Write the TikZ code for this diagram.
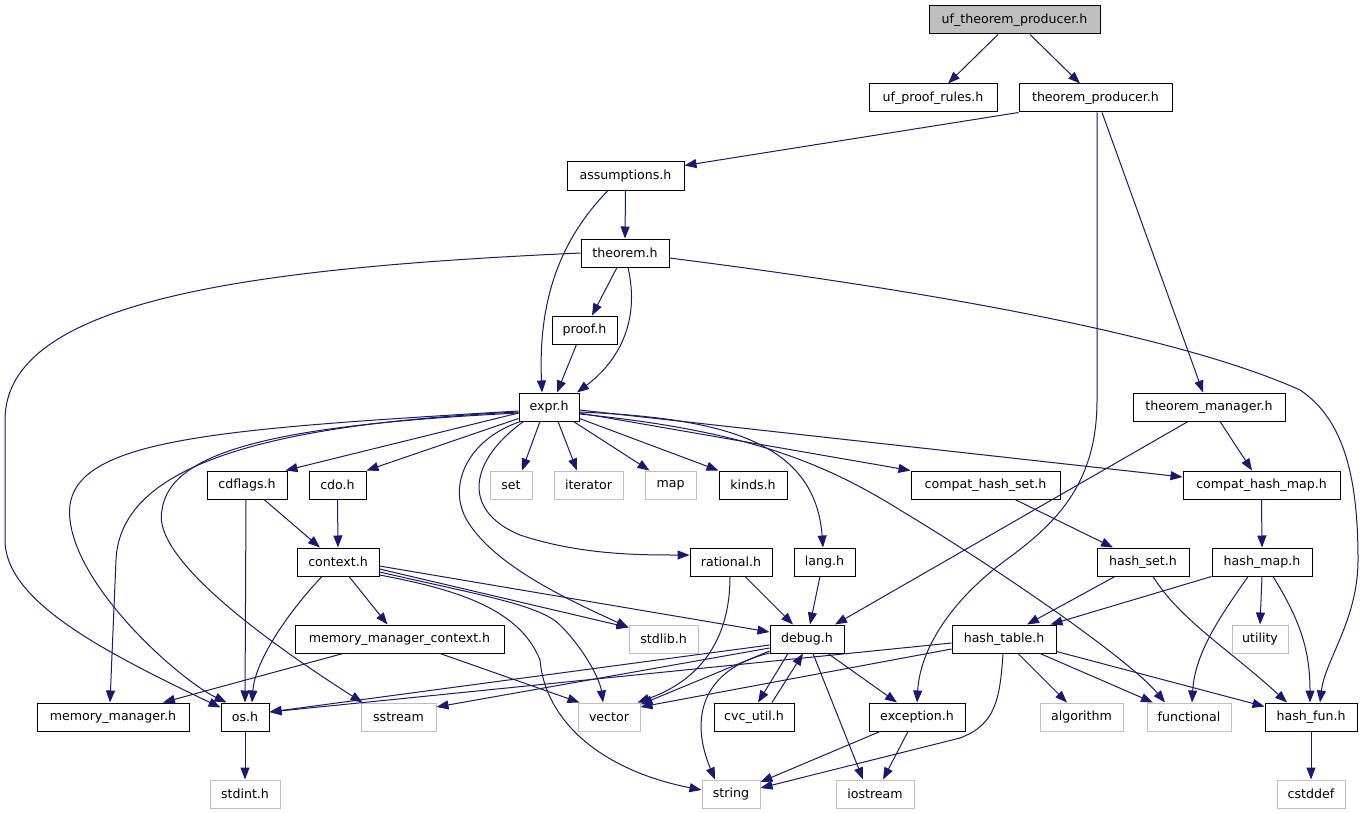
\documentclass[tikz,border=0pt]{standalone}
\usepackage{fontspec}
\setmainfont{DejaVu Sans}
\usepackage{xcolor}
\usepackage{tikz}
\usetikzlibrary{arrows.meta,positioning,calc}

\definecolor{edgeblue}{HTML}{191970}
\definecolor{sysgray}{HTML}{BFBFBF}

\begin{document}
\begin{tikzpicture}[
    x=1pt, y=-1pt,
    box/.style={rectangle, draw=black, fill=white, line width=1pt, minimum width=#1, minimum height=28pt, inner sep=1pt, font=\fontsize{12.6}{15}\selectfont},
    sysbox/.style={box=#1, draw=sysgray},
    arrow/.style={-{Triangle[length=12pt,width=9pt]}, draw=edgeblue, line width=1pt}
]
\useasboundingbox (0,0) rectangle (1364,813);
\fill[white] (0,0) rectangle (1364,813);

% Row 0 and 1
\node[box=171pt, fill=sysgray] (ufthmprod) at (1014.5,20) {uf\_theorem\_producer.h};
\node[box=128pt] (ufrules) at (933,98) {uf\_proof\_rules.h};
\node[box=153pt] (thmprod) at (1095.5,98) {theorem\_producer.h};

% Rows 2 to 5
\node[box=117pt] (assum) at (625.5,176) {assumptions.h};
\node[box=88pt] (theorem) at (625,253) {theorem.h};
\node[box=65pt] (proof) at (584.5,330) {proof.h};
\node[box=60pt] (expr) at (549,407) {expr.h};
\node[box=152pt] (thmmgr) at (1209,407) {theorem\_manager.h};

% Row 6
\node[box=80pt] (cdflags) at (247,485) {cdflags.h};
\node[box=57pt] (cdo) at (337.5,485) {cdo.h};
\node[sysbox=42pt] (set) at (511,485) {set};
\node[sysbox=69pt] (iterator) at (588.5,485) {iterator};
\node[sysbox=51pt] (map) at (670.5,485) {map};
\node[box=68pt] (kinds) at (753,485) {kinds.h};
\node[box=149pt] (chset) at (985.5,485) {compat\_hash\_set.h};
\node[box=157pt] (chmap) at (1261.5,485) {compat\_hash\_map.h};

% Row 7
\node[box=82pt] (context) at (338,562) {context.h};
\node[box=82pt] (rational) at (731,562) {rational.h};
\node[box=61pt] (lang) at (824.5,562) {lang.h};
\node[box=92pt] (hashset) at (1143,562) {hash\_set.h};
\node[box=100pt] (hashmap) at (1262,562) {hash\_map.h};

% Row 8
\node[box=209pt] (mmctx) at (399.5,639) {memory\_manager\_context.h};
\node[sysbox=69pt] (stdlib) at (663.5,639) {stdlib.h};
\node[box=74pt] (debug) at (807,639) {debug.h};
\node[box=104pt] (hashtable) at (1004,639) {hash\_table.h};
\node[sysbox=56pt] (utility) at (1260,639) {utility};

% Row 9
\node[box=152pt] (memmgr) at (113,717) {memory\_manager.h};
\node[box=48pt] (os) at (245,717) {os.h};
\node[sysbox=75pt] (sstream) at (398.5,717) {sstream};
\node[sysbox=62pt] (vector) at (609,717) {vector};
\node[box=80pt] (cvcutil) at (754,717) {cvc\_util.h};
\node[box=96pt] (exception) at (917,717) {exception.h};
\node[sysbox=83pt] (algorithm) at (1081.5,717) {algorithm};
\node[sysbox=84pt] (functional) at (1189,717) {functional};
\node[box=92pt] (hashfun) at (1311,717) {hash\_fun.h};

% Row 10
\node[sysbox=70pt] (stdint) at (245,794) {stdint.h};
\node[sysbox=58pt] (string) at (731,794) {string};
\node[sysbox=78pt] (iostream) at (875,794) {iostream};
\node[sysbox=68pt] (cstddef) at (1311,794) {cstddef};

% uf_theorem_producer.h, theorem_producer.h
\draw[arrow] ([xshift=-16.5pt]ufthmprod.south) -- ([xshift=15pt]ufrules.north);
\draw[arrow] ([xshift=15.5pt]ufthmprod.south) -- ([xshift=-15.5pt]thmprod.north);
\draw[arrow] (thmprod.south west) -- ([yshift=-4pt]assum.north east);
\draw[arrow] ([xshift=1.5pt]thmprod.south) -- (1097,400) .. controls (1097,480) and (1060,520) .. (1010,557) .. controls (950,600) and (920,650) .. (exception.north);
\draw[arrow] ([xshift=6.5pt]thmprod.south) -- ([xshift=-6pt]thmmgr.north);

% assumptions.h, theorem.h, proof.h
\draw[arrow] (assum.south) -- (theorem.north);
\draw[arrow] ([xshift=-17.5pt]assum.south) .. controls (560,240) and (538,300) .. ([xshift=-7pt]expr.north);
\draw[arrow] ([xshift=-8pt]theorem.south) -- ([xshift=7.5pt]proof.north);
\draw[arrow] ([xshift=3pt]theorem.south) .. controls (640,320) and (620,360) .. ([xshift=28pt]expr.north);
\draw[arrow] (theorem.west) .. controls (250,268) and (5,300) .. (5,420) -- (5,540) .. controls (5,600) and (100,650) .. ([yshift=-5pt]os.north west);
\draw[arrow] ([yshift=-5pt]theorem.east) .. controls (1000,300) and (1200,345) .. (1300,390) .. controls (1345,420) and (1358,480) .. (1358,560) .. controls (1358,620) and (1325,660) .. ([xshift=9pt]hashfun.north);
\draw[arrow] ([xshift=-8pt]proof.south) -- ([xshift=8pt]expr.north);

% expr.h
\draw[arrow] ([yshift=-4pt]expr.west) .. controls (200,430) and (60,440) .. (70,520) .. controls (78,590) and (180,680) .. ([xshift=6pt]os.north west);
\draw[arrow] ([yshift=-5pt]expr.west) .. controls (250,425) and (120,470) .. (116,560) -- ([xshift=-3pt]memmgr.north);
\draw[arrow] ([yshift=-6pt]expr.west) .. controls (280,425) and (170,450) .. (162,510) .. controls (150,560) and (280,650) .. ([xshift=2pt]sstream.north west);
\draw[arrow] ([yshift=-6pt]expr.west) -- ([xshift=-2pt]cdflags.north east);
\draw[arrow] ([yshift=3pt]expr.south west) -- (cdo.north east);
\draw[arrow] ([xshift=-9pt]expr.south) -- ([xshift=11pt]set.north);
\draw[arrow] ([xshift=9pt]expr.south) -- ([xshift=-11.5pt]iterator.north);
\draw[arrow] ([xshift=-6pt]expr.south east) -- ([xshift=5pt]map.north west);
\draw[arrow] ([yshift=3pt]expr.south east) -- (kinds.north west);
\draw[arrow] ([yshift=-5pt]expr.east) .. controls (720,418) and (815,440) .. ([xshift=-1.5pt]lang.north);
\draw[arrow] ([yshift=-6pt]expr.east) -- (chset.north west);
\draw[arrow] ([yshift=-3pt]expr.east) -- ([yshift=8pt]chmap.west);
\draw[arrow] ([yshift=-7pt]expr.east) .. controls (740,430) and (820,460) .. (900,510) .. controls (1000,570) and (1130,660) .. ([xshift=-24pt]functional.north);
\draw[arrow] ([xshift=2pt]expr.south west) .. controls (465,440) and (445,490) .. (470,525) .. controls (500,570) and (580,605) .. ([yshift=-3pt]stdlib.north west);
\draw[arrow] ([xshift=5pt]expr.south west) .. controls (470,460) and (460,510) .. (520,535) .. controls (580,555) and (640,555) .. ([yshift=7pt]rational.west);

% cdflags.h, cdo.h, context.h
\draw[arrow] ([xshift=17pt]cdflags.south) -- ([xshift=-18pt]context.north);
\draw[arrow] ([xshift=-1pt]cdflags.south) -- (os.north);
\draw[arrow] (cdo.south) -- (context.north);
\draw[arrow] ([xshift=-16pt]context.south) .. controls (290,610) and (255,660) .. ([xshift=7pt]os.north);
\draw[arrow] ([xshift=11pt]context.south) -- ([xshift=-12pt]mmctx.north);
\draw[arrow] ([yshift=-4pt]context.east) -- ([yshift=7pt]debug.west);
\draw[arrow] ([yshift=-7pt]context.east) -- ([yshift=-3pt]stdlib.north west);
\draw[arrow] ([yshift=-10pt]context.east) .. controls (480,595) and (540,605) .. (560,625) .. controls (585,650) and (600,680) .. ([xshift=-6pt]vector.north);
\draw[arrow] ([yshift=-13pt]context.east) .. controls (460,590) and (520,610) .. (540,660) .. controls (545,720) and (600,770) .. ([yshift=4pt]string.west);

% memory_manager_context.h, rational.h, lang.h
\draw[arrow] ([xshift=-56.5pt]mmctx.south) -- ([xshift=50pt]memmgr.north);
\draw[arrow] ([xshift=40.5pt]mmctx.south) -- ([xshift=2pt]vector.north west);
\draw[arrow] ([xshift=-1pt]rational.south) .. controls (730,640) and (700,680) .. ([xshift=-3pt]vector.north east);
\draw[arrow] ([xshift=14pt]rational.south) -- ([xshift=-14pt]debug.north);
\draw[arrow] ([xshift=-4.5pt]lang.south) -- ([xshift=3pt]debug.north);

% theorem_manager.h, compat_hash_*.h
\draw[arrow] ([xshift=-21pt]thmmgr.south) -- ([xshift=28pt]debug.north);
\draw[arrow] ([xshift=11pt]thmmgr.south) -- ([xshift=-9.5pt]chmap.north);
\draw[arrow] ([xshift=29.5pt]chset.south) -- ([xshift=-30pt]hashset.north);
\draw[arrow] (chmap.south) -- (hashmap.north);

% hash_set.h, hash_map.h
\draw[arrow] ([xshift=-28pt]hashset.south) -- ([xshift=23pt]hashtable.north);
\draw[arrow] ([xshift=10pt]hashset.south) .. controls (1180,620) and (1230,650) .. ([xshift=-24pt]hashfun.north);
\draw[arrow] (hashmap.south west) -- ([xshift=-6pt]hashtable.north east);
\draw[arrow] ([xshift=-14pt]hashmap.south) .. controls (1225,610) and (1195,650) .. ([xshift=3pt]functional.north);
\draw[arrow] (hashmap.south) -- (utility.north);
\draw[arrow] ([xshift=11pt]hashmap.south) .. controls (1300,620) and (1310,650) .. ([xshift=-1pt]hashfun.north);

% hash_table.h
\draw[arrow] ([yshift=-4pt]hashtable.west) -- ([yshift=5pt]os.east);
\draw[arrow] ([yshift=-10pt]hashtable.west) -- ([yshift=10pt]vector.east);
\draw[arrow] ([xshift=-1pt]hashtable.south) .. controls (1000,700) and (995,725) .. (960,738) -- ([yshift=6pt]string.east);
\draw[arrow] ([xshift=14pt]hashtable.south) -- ([xshift=-14.5pt]algorithm.north);
\draw[arrow] ([xshift=36pt]hashtable.south) -- ([xshift=-36pt]functional.north);
\draw[arrow] ([yshift=2pt]hashtable.south east) -- ([yshift=-4pt]hashfun.north west);

% debug.h, cvc_util.h, exception.h
\draw[arrow] ([yshift=-6pt]debug.west) -- ([yshift=5pt]os.east);
\draw[arrow] ([yshift=-9pt]debug.west) -- ([yshift=10pt]sstream.east);
\draw[arrow] ([yshift=-12pt]debug.west) -- ([yshift=-2pt]vector.north east);
\draw[arrow] ([yshift=-14pt]debug.west) .. controls (700,670) and (690,720) .. ([xshift=-16pt]string.north);
\draw[arrow] ([xshift=-19pt]debug.south) -- ([xshift=4pt]cvcutil.north);
\draw[arrow] ([xshift=6pt]debug.south) -- ([xshift=-12pt]iostream.north);
\draw[arrow] ([xshift=21pt]debug.south) -- ([xshift=-20pt]exception.north);
\draw[arrow] ([xshift=18pt]cvcutil.north) -- ([xshift=-4pt]debug.south);
\draw[arrow] ([xshift=-37pt]exception.south) -- ([yshift=12pt]string.east);
\draw[arrow] ([xshift=-9pt]exception.south) -- ([xshift=8pt]iostream.north);

% leaves
\draw[arrow] (os.south) -- (stdint.north);
\draw[arrow] (hashfun.south) -- (cstddef.north);

\end{tikzpicture}
\end{document}
